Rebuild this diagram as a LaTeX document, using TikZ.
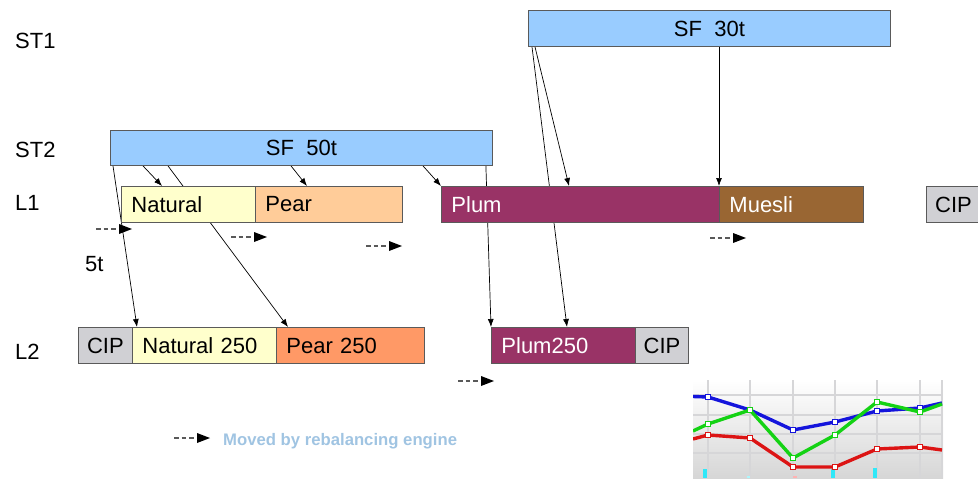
\documentclass[tikz,border=0pt]{standalone}
\usepackage{fontspec}
\setmainfont{Liberation Sans}
\usetikzlibrary{arrows.meta,backgrounds}

\definecolor{sfblue}{HTML}{99CCFF}
\definecolor{natural}{HTML}{FFFFCC}
\definecolor{pear}{HTML}{FFCC99}
\definecolor{pearhot}{HTML}{FF9966}
\definecolor{plum}{HTML}{993366}
\definecolor{muesli}{HTML}{996633}
\definecolor{cip}{HTML}{D0D0D4}
\definecolor{edge}{HTML}{5A5A5A}
\definecolor{legendblue}{HTML}{A0C4E2}
\definecolor{gridgray}{HTML}{D6D6D8}
\definecolor{serblue}{HTML}{1414DC}
\definecolor{sergreen}{HTML}{14D214}
\definecolor{serred}{HTML}{DC1414}
\definecolor{barcyan}{HTML}{30E8F8}

\tikzset{
  every node/.style={font=\fontsize{22}{26}\selectfont},
  lane/.style={draw=edge, line width=0.9pt, anchor=north west,
    minimum height=36pt, inner xsep=10pt, inner ysep=0pt,
    align=left, text width=#1},
  cipbox/.style={draw=edge, line width=0.9pt, anchor=north west, fill=cip,
    minimum height=36pt, minimum width=#1, inner sep=0pt},
  sfbox/.style={draw=edge, line width=0.9pt, anchor=north west, fill=sfblue,
    minimum height=36pt, minimum width=#1, inner sep=0pt},
  rowlabel/.style={anchor=base west, inner sep=0pt},
  feed/.style={-{Latex[length=8pt,width=6pt]}, line width=0.7pt, black},
  series/.style={line width=3.4pt, line join=round},
  moved/.pic={
    \draw[line width=2.8pt, draw=black!65, dash pattern=on 4.5pt off 3pt]
      (-36,0) -- (-13.5,0);
    \fill[black] (-13,-5) -- (0,0) -- (-13,5) -- cycle;
  }
}

% open square marker of a chart series
\newcommand\chartmark[3]{%
  \draw[#1, fill=white, line width=1.3pt] (#2-2.6,#3-2.6) rectangle (#2+2.6,#3+2.6);}

\begin{document}
\begin{tikzpicture}[x=1pt, y=-1pt]
\useasboundingbox (0,0) rectangle (978,479);

% row labels
\node[rowlabel] (st1) at (15,48) {ST1};
\node[rowlabel] (st2) at (15,157) {ST2};
\node[rowlabel] (l1) at (15,210) {L1};
\node[rowlabel] (l2) at (15,359) {L2};
\node[rowlabel] (five) at (85,271) {5t};

% storage tanks
\node[sfbox=362pt] (sf30) at (528,10) {SF\ \ 30t};
\node[sfbox=382pt, minimum height=35pt] (sf50) at (110,130) {SF\ \ 50t};

% line 1
\node[lane=114pt, fill=natural] (natural) at (121,186) {Natural};
\node[lane=127pt, fill=pear] (pear) at (255,186) {Pear};
\node[lane=258pt, fill=plum, text=white] (plum) at (441,186) {Plum};
\node[lane=124pt, fill=muesli, text=white] (muesli) at (719,186) {Muesli};
\node[cipbox=54pt] (cipa) at (926,186) {CIP};

% line 2
\node[cipbox=54pt] (cipb) at (78,327) {CIP};
\node[lane=124pt, fill=natural] (nat250) at (132,327) {Natural 250};
\node[lane=128pt, fill=pearhot] (pear250) at (276,327) {Pear 250};
\node[lane=124pt, fill=plum, text=white] (plum250) at (491,327) {Plum250};
\node[cipbox=53pt] (cipc) at (635,327) {CIP};

% feeds from the tanks, kept behind the boxes
\begin{scope}[on background layer]
  \draw[feed] ([xshift=3pt]sf50.south west) -- ([xshift=5pt]nat250.north west);
  \draw[feed] ([xshift=33pt]sf50.south west) -- ([xshift=41pt]natural.north west);
  \draw[feed] ([xshift=58pt]sf50.south west) -- ([xshift=12pt]pear250.north west);
  \draw[feed] ([xshift=181pt]sf50.south west) -- ([xshift=52pt]pear.north west);
  \draw[feed] ([xshift=313pt]sf50.south west) -- (plum.north west);
  \draw[feed] ([xshift=-7pt]sf50.south east) -- (plum250.north west);
  \draw[feed] ([xshift=4pt]sf30.south west) -- ([xshift=76pt]plum250.north west);
  \draw[feed] ([xshift=7pt]sf30.south west) -- ([xshift=128pt]plum.north west);
  \draw[feed] (sf30.south -| muesli.north west) -- (muesli.north west);
\end{scope}

% moves made by the rebalancing engine
\pic at (132,229) {moved};
\pic at (267,237) {moved};
\pic at (402,246) {moved};
\pic at (746,238) {moved};
\pic at (494,381) {moved};
\pic at (210,438) {moved};
\node[rowlabel, font=\fontsize{16.7}{20}\selectfont\bfseries, text=legendblue]
  (legend) at (223,445) {Moved by rebalancing engine};

% trend chart
\begin{scope}
  \clip (693,380) rectangle (943,478);
  \shade[top color=white, bottom color=black!16] (693,380) rectangle (943,478);
  \foreach \gy in {395,415,434,453}
    \draw[gridgray, line width=1.2pt] (693,\gy) -- (943,\gy);
  \foreach \gx in {708,750,793,835,877,920,942}
    \draw[gridgray, line width=1.2pt] (\gx,380) -- (\gx,478);
  \fill[barcyan] (703,469) rectangle (707,478);
  \fill[barcyan] (831,469) rectangle (835,478);
  \fill[barcyan] (873,468) rectangle (877,478);
  \fill[barcyan!40] (747,476) rectangle (750,478);
  \fill[red!30] (793,476) rectangle (797,478);
  % red series
  \draw[series, serred] (693,439) -- (708,435) -- (750,438) -- (793,467)
    -- (835,467) -- (877,449) -- (920,447) -- (942,450);
  \foreach \px/\py in {708/435,750/438,793/467,835/467,877/449,920/447}
    {\chartmark{serred}{\px}{\py}}
  % blue series
  \draw[series, serblue] (693,396.5) -- (708,397) -- (750,410) -- (793,430)
    -- (835,422) -- (877,411) -- (920,408) -- (942,403);
  \foreach \px/\py in {708/397,750/410,793/430,835/422,877/411,920/408}
    {\chartmark{serblue}{\px}{\py}}
  % green series
  \draw[series, sergreen] (693,431) -- (708,424) -- (750,410) -- (793,458)
    -- (835,435) -- (877,402) -- (920,412) -- (942,404);
  \foreach \px/\py in {708/424,750/410,793/458,835/435,877/402,920/412}
    {\chartmark{sergreen}{\px}{\py}}
\end{scope}
\end{tikzpicture}
\end{document}
